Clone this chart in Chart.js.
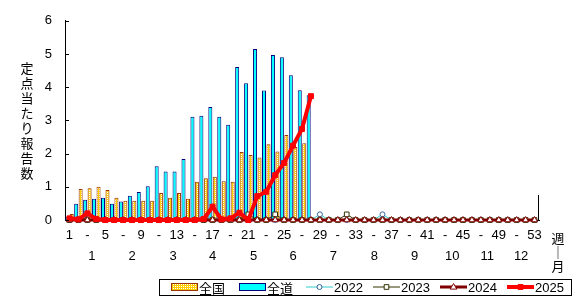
<!DOCTYPE html>
<html>
<head>
<meta charset="utf-8">
<script src="https://cdn.jsdelivr.net/npm/chart.js@4.4.1/dist/chart.umd.min.js"></script>
<style>
body{margin:0;background:#fff;}
#wrap{width:579px;height:299px;}
</style>
</head>
<body>
<div id="wrap"><canvas id="teitenChart" width="579" height="299"></canvas></div>
<script>
// week tick labels (1 - 5 - 9 ...)
const weekLabels = ["1","","-","","5","","-","","9","","-","","13","","-","","17","","-","","21","","-","","25","","-","",
  "29","","-","","33","","-","","37","","-","","41","","-","","45","","-","","49","","-","","53"];
const monthLabels = ["1","2","3","4","5","6","7","8","9","10","11","12"];
const monthWeek = [3.5, 8, 12.6, 17, 21.6, 26, 30.5, 35.1, 39.6, 43.8, 47.7, 51.5];

// bars
const zenkoku = [0.18,0.93,0.96,1.0,0.90,0.67,0.58,0.58,0.58,0.58,0.81,0.67,0.81,0.64,1.15,1.26,1.30,1.17,1.15,2.05,1.96,1.88,2.28,2.06,2.56,2.2,2.31,null];
const zendou = [0.08,0.49,0.61,0.64,0.67,0.49,0.56,0.73,0.84,1.02,1.62,1.46,1.46,1.84,3.11,3.14,3.40,3.11,2.87,4.61,4.12,5.15,3.90,4.97,4.90,4.36,3.91,3.76];

// lines
const y2022 = [0,0,0,0,0,0,0,0,0,0,0,0,0,0,0,0,0,0,0,0,0,0,0,0,0,0,0,0,0.17,0,0,0,0,0,0,0.17,0,0,0,0,0,0,0,0,0,0,0,0,0,0,0,0,0];
const y2023 = [0,0,0,0,0,0,0,0,0,0,0,0,0,0,0,0,0,0,0,0,0.17,0,0,0.17,0,0,0,0,0,0,0,0.17,0,0,0,0,0,0,0,0,0,0,0,0,0,0,0,0,0,0,0,0,0];
const y2024 = [0,0,0,0,0,0,0,0,0,0,0,0,0,0,0,0,0,0,0,0,0,0,0,0,0,0,0,0,0,0,0,0,0,0,0,0,0,0,0,0,0,0,0,0,0,0,0,0,0,0,0,0,0];
const y2025 = [0.05,0.02,0.2,0.03,0,0,0,0,0,0,0,0,0,0,0,0.03,0.4,0.02,0.05,0.22,0,0.72,0.85,1.35,1.72,2.24,2.74,3.73];

const yTitle = "定点当たり報告数";
const numFont = '"Liberation Sans", Arial, sans-serif';
const jpFont = '"Noto Sans CJK JP", sans-serif';
const legendX = [171, 239, 306, 373, 440, 507];

// dotted orange fill for 全国
function makeDots(){
    const c = document.createElement('canvas');
    c.width = 2; c.height = 2;
    const g = c.getContext('2d');
    g.fillStyle = '#FFCC00';
    g.fillRect(0,0,2,2);
    g.fillStyle = '#FFFFFF';
    g.fillRect(1,0,1,1);
    return g.createPattern(c, 'repeat');
}
const dots = makeDots();

function drawMark(ctx, style, x, y, r){
    ctx.beginPath();
    if(style == 'circle'){
        ctx.arc(x, y, r, 0, Math.PI*2);
    }else if(style == 'rect'){
        const s = r*Math.SQRT1_2;
        ctx.rect(x-s, y-s, 2*s, 2*s);
    }else if(style == 'triangle'){
        ctx.moveTo(x, y-r);
        ctx.lineTo(x+r*0.95, y+r*0.6);
        ctx.lineTo(x-r*0.95, y+r*0.6);
        ctx.closePath();
    }
    ctx.fill();
    ctx.stroke();
}

const extras = {
    id: 'extras',
    afterDraw(chart){
        const ctx = chart.ctx;
        const xs = chart.scales.x, ys = chart.scales.y;
        const a = chart.chartArea;
        ctx.save();
        ctx.strokeStyle = '#000';
        ctx.lineWidth = 1;
        // inner ticks on y axis
        ys.ticks.forEach(t => {
            const py = Math.round(ys.getPixelForValue(t.value)) + 0.5;
            ctx.beginPath();
            ctx.moveTo(a.left, py);
            ctx.lineTo(a.left + 4, py);
            ctx.stroke();
        });
        // short right edge
        ctx.beginPath();
        ctx.moveTo(a.right - 0.5, Math.round(ys.getPixelForValue(0.75)));
        ctx.lineTo(a.right - 0.5, a.bottom);
        ctx.stroke();

        ctx.fillStyle = '#000';
        ctx.textAlign = 'center';
        ctx.textBaseline = 'middle';
        ctx.font = '13px ' + jpFont;
        yTitle.split('').forEach((ch, i) => ctx.fillText(ch, 27, 68 + i*15));
        ctx.fillText('週', 558, 238);
        ctx.fillText('｜', 558, 252);
        ctx.fillText('月', 558, 266);

        ctx.font = '13px ' + numFont;
        monthWeek.forEach((w, i) => {
            ctx.fillText(monthLabels[i], xs.getPixelForValue(w - 1), 256);
        });

        // legend
        const ds = chart.data.datasets;
        const ly = 287;
        ctx.textAlign = 'left';
        ctx.strokeStyle = '#000';
        ctx.strokeRect(159.5, 279.5, 412, 16);
        ds.forEach((d, i) => {
            const lx = legendX[i];
            if(d.type == 'bar'){
                ctx.fillStyle = d.backgroundColor;
                ctx.fillRect(lx, 283, 27, 8);
                ctx.strokeStyle = d.borderColor;
                ctx.strokeRect(lx + 0.5, 283.5, 26, 7);
            }else{
                ctx.strokeStyle = d.borderColor;
                ctx.lineWidth = d.borderWidth;
                ctx.beginPath();
                ctx.moveTo(lx, ly);
                ctx.lineTo(lx + 27, ly);
                ctx.stroke();
                ctx.lineWidth = 1;
                ctx.fillStyle = d.pointBackgroundColor;
                ctx.strokeStyle = d.pointBorderColor;
                drawMark(ctx, d.pointStyle, lx + 13.5, ly, d.pointRadius);
            }
            ctx.fillStyle = '#000';
            ctx.font = '13px ' + (d.type == 'bar' ? jpFont : numFont);
            ctx.fillText(d.label, lx + 28, ly + 1);
        });
        ctx.restore();
    }
};

Chart.defaults.font.family = numFont;
Chart.defaults.font.size = 13;
Chart.defaults.color = '#000';

var chart = new Chart("teitenChart", {
    data: {
        labels: weekLabels,
        datasets: [
            {type:'bar', label:'全国', data:zenkoku, backgroundColor:dots, borderColor:'#993300', borderWidth:1, order:5},
            {type:'bar', label:'全道', data:zendou, backgroundColor:'#00FFFF', borderColor:'#000080', borderWidth:1, order:4},
            {type:'line', label:'2022', data:y2022, borderColor:'#33CCCC', borderWidth:1, pointStyle:'circle', pointRadius:2.5,
                pointBackgroundColor:'#FFFFFF', pointBorderColor:'#336699', pointBorderWidth:1, clip:false, order:3},
            {type:'line', label:'2023', data:y2023, borderColor:'#333300', borderWidth:1, pointStyle:'rect', pointRadius:3.3,
                pointBackgroundColor:'#FFFFFF', pointBorderColor:'#333300', pointBorderWidth:1, clip:false, order:2},
            {type:'line', label:'2024', data:y2024, borderColor:'#800000', borderWidth:3, pointStyle:'triangle', pointRadius:3.5,
                pointBackgroundColor:'#FFFFFF', pointBorderColor:'#800000', pointBorderWidth:1, clip:false, order:1},
            {type:'line', label:'2025', data:y2025, borderColor:'#FF0000', borderWidth:4, pointStyle:'rect', pointRadius:3.5,
                pointBackgroundColor:'#FF0000', pointBorderColor:'#FF0000', pointBorderWidth:1, clip:false, order:0}
        ]
    },
    options: {
        responsive: false,
        animation: false,
        events: [],
        layout: { padding: { left: 0, right: 40, top: 16, bottom: 0 } },
        plugins: { legend: { display: false }, tooltip: { enabled: false } },
        datasets: { bar: { categoryPercentage: 1.0, barPercentage: 0.9 } },
        scales: {
            x: {
                type: 'category',
                offset: true,
                grid: { display: false, drawTicks: false },
                border: { color: '#000' },
                ticks: { autoSkip: false, maxRotation: 0, minRotation: 0, padding: 8 },
                afterFit(s){ s.height = 79; }
            },
            y: {
                min: 0, max: 6,
                grid: { display: false, drawTicks: false },
                border: { color: '#000' },
                ticks: { stepSize: 1, padding: 13 },
                afterFit(s){ s.width = 65; }
            }
        }
    },
    plugins: [extras]
});
</script>
</body>
</html>
